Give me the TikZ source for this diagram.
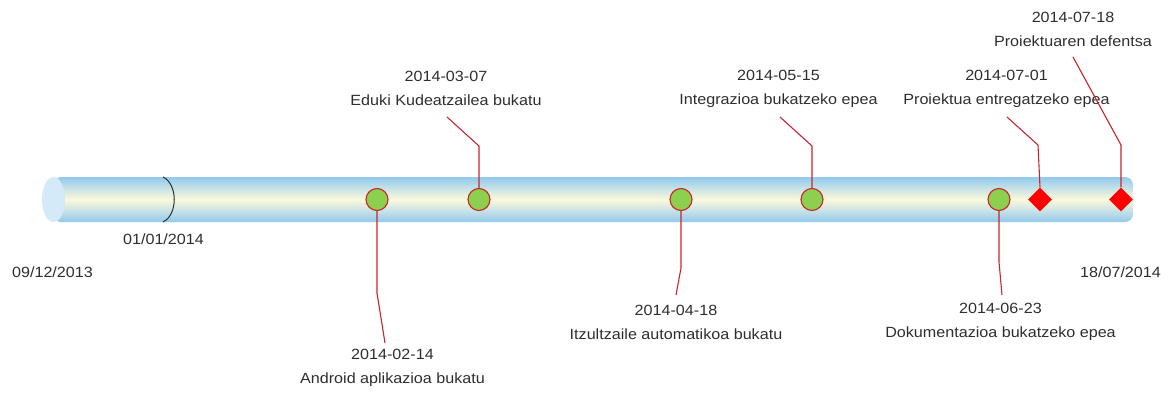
\documentclass[tikz,border=0pt]{standalone}
\usepackage{fontspec}
\setmainfont{Liberation Sans}[FakeStretch=1.09]
\usetikzlibrary{shapes.geometric}
\definecolor{txt}{HTML}{2E2E2E}
\definecolor{lead}{HTML}{C8252E}
\definecolor{tubeblue}{HTML}{92CAEE}
\definecolor{tubecream}{HTML}{FCF9DC}
\definecolor{capblue}{HTML}{D5EAF8}
\definecolor{mgreen}{HTML}{8DCF4F}
\tikzset{
  lbl/.style={text=txt, font=\fontsize{14.8}{24}\selectfont, align=center, inner sep=0pt},
  ms/.style={circle, draw=lead, line width=1.1pt, fill=mgreen, minimum size=22pt, inner sep=0pt},
  dm/.style={diamond, fill=red, minimum size=24pt, inner sep=0pt},
  leader/.style={draw=lead, line width=1.1pt}
}
\begin{document}
\begin{tikzpicture}[x=1pt,y=-1pt]
\useasboundingbox (0,0) rectangle (1173,394);
% tube
\shade[top color=tubeblue, bottom color=tubeblue, middle color=tubecream, rounded corners=8pt]
  (53,177) -- (1133,177) -- (1133,222) -- (53,222) -- cycle;
\fill[capblue] (53.5,199.5) ellipse [x radius=11.5pt, y radius=22.5pt];
\draw[txt, line width=1pt] (163,177) .. controls (178,184) and (178,215) .. (163,222);
% markers
\node[ms] (m1) at (377,199.5) {};
\node[ms] (m2) at (479,199.5) {};
\node[ms] (m3) at (681,199.5) {};
\node[ms] (m4) at (812,199.5) {};
\node[ms] (m5) at (999,199.5) {};
\node[dm] (d1) at (1040,199.5) {};
\node[dm] (d2) at (1121,199.5) {};
% labels
\node[lbl] (l0) at (163.5,239.5) {01/01/2014};
\node[lbl] (ls) at (52.5,272.5) {09/12/2013};
\node[lbl] (le) at (1120.5,272.5) {18/07/2014};
\node[lbl] (t1) at (392.5,368) {2014-02-14\\Android aplikazioa bukatu};
\node[lbl] (t2) at (446,88.5) {2014-03-07\\Eduki Kudeatzailea bukatu};
\node[lbl] (t3) at (676,322) {2014-04-18\\Itzultzaile automatikoa bukatu};
\node[lbl] (t4) at (778.5,88.5) {2014-05-15\\Integrazioa bukatzeko epea};
\node[lbl] (t5) at (1000.5,322) {2014-06-23\\Dokumentazioa bukatzeko epea};
\node[lbl] (t6) at (1006.5,88.5) {2014-07-01\\Proiektua entregatzeko epea};
\node[lbl] (t7) at (1073,29) {2014-07-18\\Proiektuaren defentsa};
% bends and ends
\coordinate (b1) at (377,293); \coordinate (e1) at (385,343);
\coordinate (b2) at (479,146); \coordinate (e2) at (447,117);
\coordinate (b3) at (681,268); \coordinate (e3) at (676,295);
\coordinate (b4) at (812,146); \coordinate (e4) at (780,117);
\coordinate (b5) at (999,262); \coordinate (e5) at (1002,295);
\coordinate (b6) at (1038,145); \coordinate (e6) at (1007,117);
\coordinate (b7) at (1121,145); \coordinate (e7) at (1073,57);
\draw[leader] (m1.south) -- (b1) -- (e1);
\draw[leader] (m2.north) -- (b2) -- (e2);
\draw[leader] (m3.south) -- (b3) -- (e3);
\draw[leader] (m4.north) -- (b4) -- (e4);
\draw[leader] (m5.south) -- (b5) -- (e5);
\draw[leader] (d1.north) -- (b6) -- (e6);
\draw[leader] (d2.north) -- (b7) -- (e7);
\end{tikzpicture}
\end{document}
